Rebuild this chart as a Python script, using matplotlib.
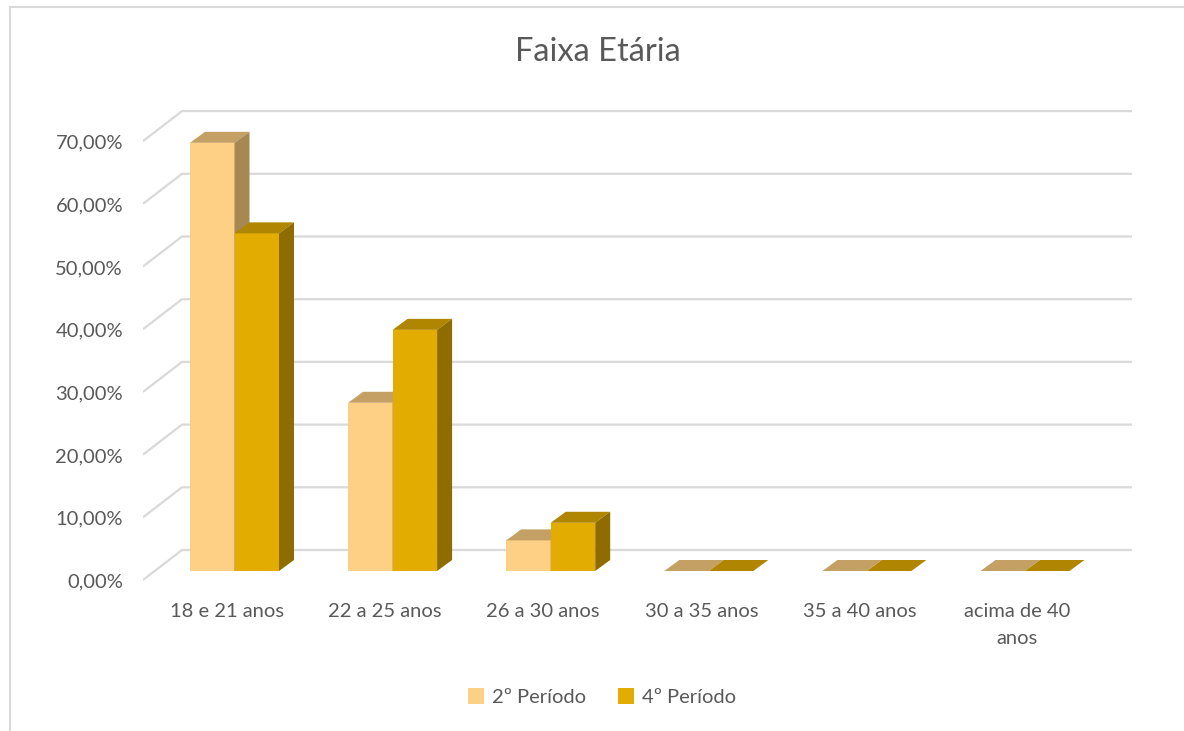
import numpy as np
import matplotlib
matplotlib.use('Agg')
import matplotlib.pyplot as plt
from matplotlib.patches import Polygon, Patch
from matplotlib.lines import Line2D

plt.rcParams['font.family'] = ['Lato', 'DejaVu Sans']

# data
categorias = ['18 e 21 anos', '22 a 25 anos', '26 a 30 anos', '30 a 35 anos',
              '35 a 40 anos', 'acima de 40\nanos']
periodo2 = [68.29, 26.83, 4.88, 0.0, 0.0, 0.0]
periodo4 = [53.85, 38.46, 7.69, 0.0, 0.0, 0.0]
series = ['2º Período', '4º Período']
ticks = [0, 10, 20, 30, 40, 50, 60, 70]

# colours: front, top, side
cores2 = ('#FED085', '#C4A064', '#A68851')
cores4 = ('#E2AC00', '#B08600', '#8E6C00')
cinza = '#595959'
grade = '#D9D9D9'

W, H = 1184, 731
fig = plt.figure(figsize=(W / 100, H / 100), dpi=100)

# axes placed so that 1 category = 158.1 px, 10% = 62.7 px
px_cat = 158.1
px_pct = 6.27
ax_l, ax_r, ax_t, ax_b = 143, 1132, 100, 600
ax = fig.add_axes([ax_l / W, 1 - ax_b / H, (ax_r - ax_l) / W, (ax_b - ax_t) / H])
x0_px, y0_px = 234.5, 571
ax.set_xlim((ax_l - x0_px) / px_cat, (ax_r - x0_px) / px_cat)
ax.set_ylim((y0_px - ax_b) / px_pct, (y0_px - ax_t) / px_pct)
ax.axis('off')

# 3d offsets (in data units)
back_dy = 21 / px_pct          # back wall above bar front plane
front_dy = -9 / px_pct         # floor front edge below bar front plane
x_back = (182 - x0_px) / px_cat
x_front = (ax_l - x0_px) / px_cat
x_right = (ax_r - x0_px) / px_cat
ddx = 15 / px_cat
ddy = 11 / px_pct

for t in ticks:
    ax.plot([x_front, x_back, x_right], [t + front_dy, t + back_dy, t + back_dy],
            color=grade, lw=1.6, zorder=1, solid_capstyle='butt')
    ax.text(x_front - 20 / px_cat, t + front_dy - 0.3, f'{t},00%',
            ha='right', va='center', fontsize=14.5, color=cinza)

w = 44.5 / px_cat
x = np.arange(len(categorias))


def barra3d(xc, vals, cores, z):
    ax.bar(xc, vals, width=w, color=cores[0], linewidth=0, zorder=z)
    for xi, v in zip(xc, vals):
        l, r = xi - w / 2, xi + w / 2
        top = Polygon([(l, v), (r, v), (r + ddx, v + ddy), (l + ddx, v + ddy)],
                      closed=True, facecolor=cores[1], lw=0, zorder=z)
        ax.add_patch(top)
        if v > 0:
            side = Polygon([(r, 0), (r, v), (r + ddx, v + ddy), (r + ddx, ddy)],
                           closed=True, facecolor=cores[2], lw=0, zorder=z)
            ax.add_patch(side)


barra3d(x - w / 2, periodo2, cores2, 2)
barra3d(x + w / 2, periodo4, cores4, 3)

for xi, c in zip(x, categorias):
    ax.text(xi - 7.5 / px_cat, (y0_px - 603) / px_pct, c, ha='center', va='top',
            fontsize=14.5, color=cinza, linespacing=1.7)

fig.text(598 / W, 1 - 52 / H, 'Faixa Etária', ha='center', va='center',
         fontsize=23.5, color=cinza)

handles = [Patch(facecolor=cores2[0], label=series[0]),
           Patch(facecolor=cores4[0], label=series[1])]
leg = fig.legend(handles=handles, loc='center', bbox_to_anchor=(602 / W, 1 - 697 / H),
                 ncol=2, frameon=False, fontsize=14.5, handlelength=0.8,
                 handleheight=0.8, handletextpad=0.4, columnspacing=1.6)
for txt in leg.get_texts():
    txt.set_color(cinza)

# chart frame
fig.add_artist(Line2D([10 / W, 1], [1 - 7 / H, 1 - 7 / H], color=grade, lw=1.5))
fig.add_artist(Line2D([10 / W, 10 / W], [0, 1 - 7 / H], color=grade, lw=1.5))

fig.savefig('out.png', dpi=100)
